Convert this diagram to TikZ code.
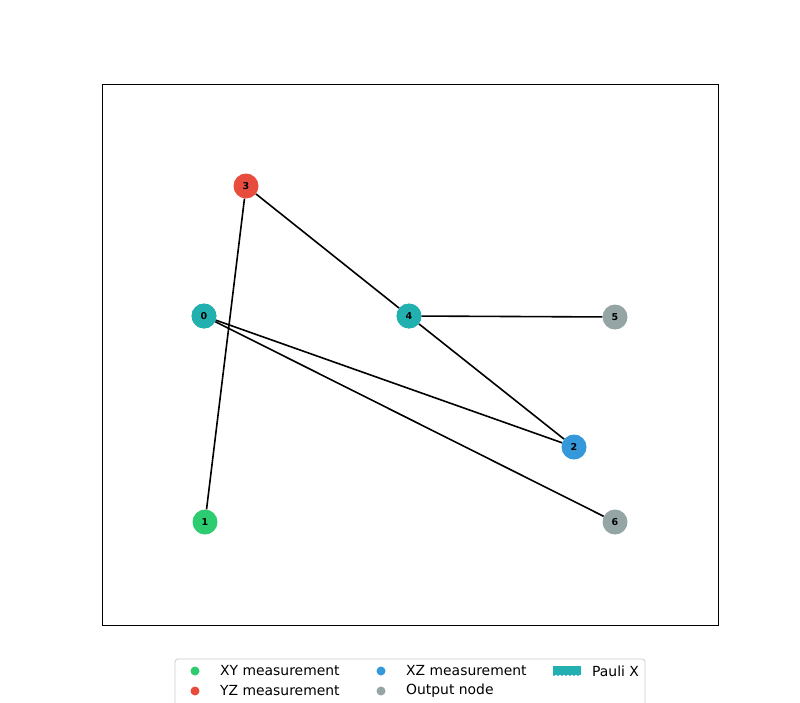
\documentclass[tikz,border=0pt]{standalone}
\usepackage{fontspec}
\setmainfont{DejaVu Sans}
\definecolor{cxy}{HTML}{2ECC71}
\definecolor{cyz}{HTML}{E74C3C}
\definecolor{cxz}{HTML}{3498DB}
\definecolor{cout}{HTML}{95A5A6}
\definecolor{cpx}{HTML}{1ABC9C}
\definecolor{legbord}{HTML}{CCCCCC}
\tikzset{
  qn/.style={circle, minimum size=25pt, inner sep=0pt, font=\fontsize{9.5}{10}\selectfont\bfseries},
  xy/.style={qn, fill=cxy},
  yz/.style={qn, fill=cyz},
  xz/.style={qn, fill=cxz},
  outn/.style={qn, fill=cout},
  hatch/.style={path picture={
    \foreach \k in {-36,-32,...,36}
      \draw[cxz!85!cpx, line width=1pt] ([xshift=\k pt-30pt, yshift=-30pt]path picture bounding box.center) -- ++(60pt,60pt);}},
  paulix/.style={qn, fill=cpx, hatch},
  edge/.style={draw=black, line width=1.6pt},
  legtext/.style={anchor=west, inner sep=0pt, font=\fontsize{13.9}{15}\selectfont},
  legdot/.style={circle, inner sep=0pt, minimum size=9pt},
}
\begin{document}
\begin{tikzpicture}[x=1pt,y=-1pt]
\useasboundingbox (0,0) rectangle (800,702);
\clip (0,0) rectangle (800,702);
\fill[white] (0,0) rectangle (800,702);
\draw[line width=0.8pt] (102,84) rectangle (718,625);
% nodes
\node[paulix] (n0) at (204,316) {0};
\node[xy] (n1) at (205,522) {1};
\node[xz] (n2) at (574,447) {2};
\node[yz] (n3) at (246,186) {3};
\node[paulix] (n4) at (409,316) {4};
\node[outn] (n5) at (615,317) {5};
\node[outn] (n6) at (615,522) {6};
% edges
\draw[edge] (n3) -- (n1);
\draw[edge] (n3) -- (n4);
\draw[edge] (n4) -- (n5);
\draw[edge] (n4) -- (n2);
\draw[edge] (n0) -- (n2);
\draw[edge] (n0) -- (n6);
% legend
\draw[legbord, fill=white, rounded corners=3pt, line width=0.8pt] (175,659) rectangle (645,720);
\node[legdot, fill=cxy] (l1) at (195,671) {};
\node[legtext] (t1) at (220,671) {XY measurement};
\node[legdot, fill=cyz] (l2) at (195,691) {};
\node[legtext] (t2) at (220,691) {YZ measurement};
\node[legdot, fill=cxz] (l3) at (381,671) {};
\node[legtext] (t3) at (406,671) {XZ measurement};
\node[legdot, fill=cout] (l4) at (381,691) {};
\node[legtext] (t4) at (406,691) {Output node};
\node[rectangle, fill=cpx, minimum width=28pt, minimum height=9pt, inner sep=0pt, hatch] (lp) at (567,670.5) {};
\node[legtext] (t5) at (592,671) {Pauli X};
\end{tikzpicture}
\end{document}
